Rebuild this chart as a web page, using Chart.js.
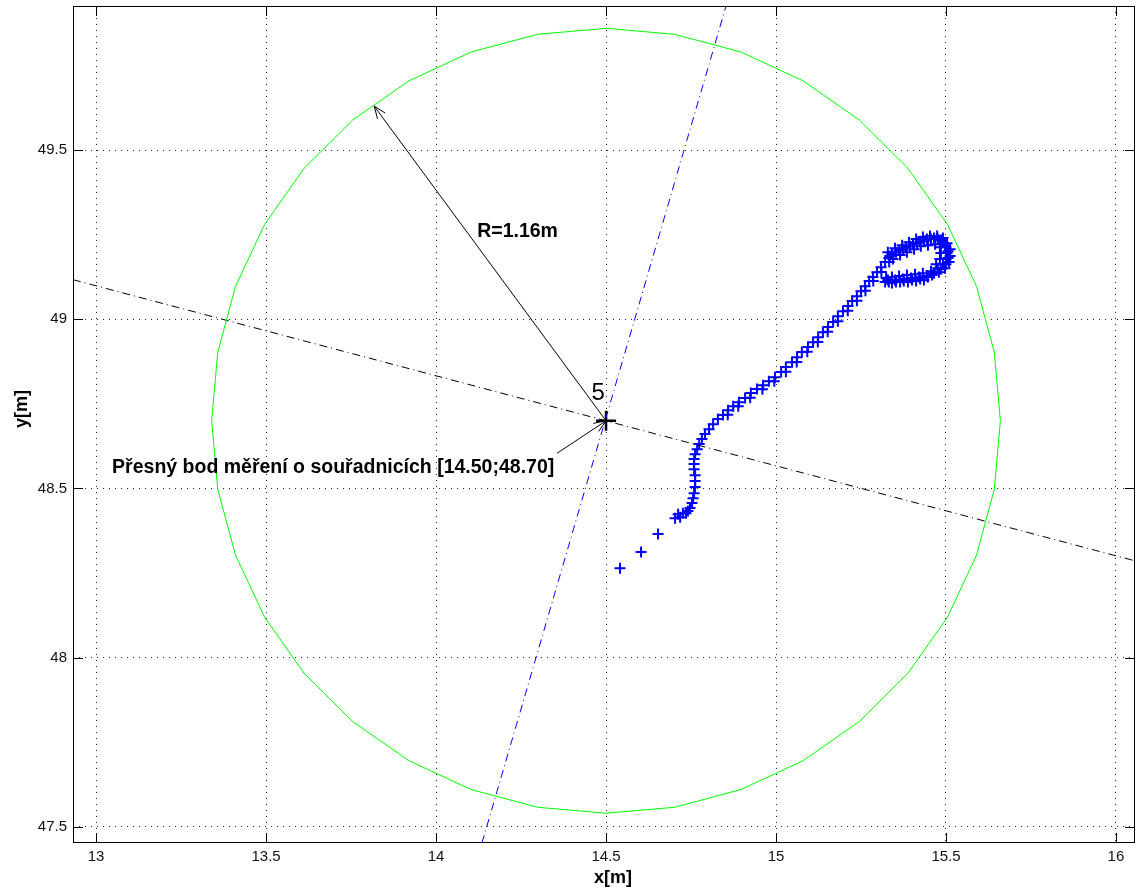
<!DOCTYPE html>
<html>
<head>
<meta charset="utf-8">
<script src="https://cdn.jsdelivr.net/npm/chart.js@4.4.1/dist/chart.umd.min.js"></script>
<style>
  html, body { margin: 0; padding: 0; background: #fff; }
  #wrap { width: 1136px; height: 890px; }
</style>
</head>
<body>
<div id="wrap"><canvas id="chart" width="1136" height="890"></canvas></div>
<script>
// axis ranges
const xRange = [12.932, 16.056];
const yRange = [47.452, 49.926];
const tickStep = 0.5;

// measuring point and tolerance circle
const centerPoint = [14.5, 48.7];
const radius = 1.16;
const circleSteps = 36;

// dash-dot reference lines (end points on the axes box)
const blackLineX = [12.932, 16.056];
const blackLineY = [49.117, 48.286];
const blueLineX = [14.135, 14.853];
const blueLineY = [47.452, 49.926];

// measured positions (+ markers)
const trackX = [
  14.541, 14.603, 14.653,
  14.703, 14.712, 14.718, 14.726, 14.735, 14.741, 14.747, 14.753, 14.756, 14.759,
  14.762, 14.762, 14.762, 14.759, 14.759, 14.759, 14.762, 14.768, 14.774, 14.782,
  14.791, 14.803, 14.815, 14.829, 14.844, 14.859, 14.874, 14.891, 14.909, 14.926,
  14.944, 14.962, 14.979, 14.997, 15.015, 15.029, 15.047, 15.062, 15.076, 15.094,
  15.109, 15.124, 15.138, 15.153, 15.168, 15.182, 15.197, 15.212, 15.224, 15.238,
  15.250, 15.262, 15.274, 15.285, 15.297, 15.309, 15.321, 15.332,
  14.858, 14.889, 14.924, 14.960, 14.995, 15.029, 15.061, 15.092, 15.123, 15.152,
  15.182, 15.211, 15.238, 15.263, 15.286, 15.310, 15.333,
  15.335, 15.353, 15.374, 15.394, 15.415, 15.435, 15.456, 15.476, 15.491, 15.500,
  15.503, 15.500, 15.491, 15.476, 15.456, 15.432, 15.409, 15.385, 15.362, 15.341, 15.324,
  15.344, 15.365, 15.385, 15.406, 15.426, 15.447, 15.468, 15.482, 15.485, 15.482,
  15.471, 15.447, 15.424, 15.400, 15.376, 15.353, 15.332,
  15.329, 15.350, 15.371, 15.391, 15.412, 15.432, 15.453, 15.474, 15.491, 15.503,
  15.512, 15.512, 15.509, 15.497, 15.479, 15.459, 15.435, 15.412, 15.388, 15.365,
  15.341, 15.321,
  15.341, 15.362, 15.382, 15.403, 15.424, 15.444, 15.465, 15.485, 15.497, 15.506,
  15.506, 15.500, 15.485, 15.465, 15.444, 15.421, 15.397, 15.374, 15.350, 15.329
];
const trackY = [
  48.264, 48.312, 48.365,
  48.412, 48.424, 48.415, 48.427, 48.427, 48.433, 48.442, 48.457, 48.471, 48.486,
  48.504, 48.522, 48.539, 48.557, 48.572, 48.587, 48.601, 48.616, 48.631, 48.646,
  48.661, 48.675, 48.690, 48.705, 48.717, 48.731, 48.743, 48.755, 48.767, 48.782,
  48.794, 48.805, 48.817, 48.829, 48.844, 48.859, 48.873, 48.888, 48.903, 48.918,
  48.932, 48.947, 48.962, 48.977, 48.992, 49.009, 49.024, 49.039, 49.054, 49.068,
  49.083, 49.098, 49.113, 49.125, 49.139, 49.154, 49.169, 49.181,
  48.718, 48.743, 48.768, 48.793, 48.817, 48.845, 48.874, 48.904, 48.933, 48.963,
  48.994, 49.025, 49.055, 49.084, 49.113, 49.140, 49.169,
  49.187, 49.198, 49.207, 49.216, 49.225, 49.231, 49.237, 49.237, 49.228, 49.213,
  49.196, 49.178, 49.163, 49.151, 49.142, 49.136, 49.133, 49.131, 49.128, 49.125, 49.122,
  49.178, 49.190, 49.198, 49.207, 49.216, 49.219, 49.222, 49.213, 49.196, 49.178,
  49.163, 49.125, 49.119, 49.116, 49.113, 49.110, 49.110,
  49.198, 49.210, 49.219, 49.228, 49.237, 49.243, 49.246, 49.246, 49.240, 49.225,
  49.207, 49.187, 49.169, 49.151, 49.139, 49.131, 49.116, 49.113, 49.110, 49.110,
  49.107, 49.110,
  49.193, 49.204, 49.213, 49.222, 49.231, 49.237, 49.240, 49.234, 49.219, 49.201,
  49.181, 49.163, 49.148, 49.136, 49.128, 49.125, 49.122, 49.119, 49.116, 49.116
];

// annotations
const radiusArrowEnd = [13.818, 49.630];
const noteArrowStart = [14.356, 48.604];
const radiusLabel = "R=1.16m";
const radiusLabelPos = [14.121, 49.258];
const noteLabel = "Přesný bod měření o souřadnicích [14.50;48.70]";
const noteLabelPos = [13.047, 48.563];
const pointLabel = "5";
const pointLabelPos = [14.457, 48.781];

const circlePts = [];
for (let i = 0; i <= circleSteps; i++) {
  const a = (i / circleSteps) * 2 * Math.PI;
  circlePts.push({ x: centerPoint[0] + radius * Math.cos(a), y: centerPoint[1] + radius * Math.sin(a) });
}

const toPts = (xs, ys) => xs.map((x, i) => ({ x: x, y: ys[i] }));

const FONT = "'Liberation Sans', Arial, sans-serif";
const tickFmt = v => String(+Number(v).toFixed(1));

function arrowHead(ctx, x1, y1, x2, y2) {
  const ang = Math.atan2(y2 - y1, x2 - x1);
  const len = 13, spread = 0.38;
  ctx.beginPath();
  ctx.moveTo(x2 - len * Math.cos(ang - spread), y2 - len * Math.sin(ang - spread));
  ctx.lineTo(x2, y2);
  ctx.lineTo(x2 - len * Math.cos(ang + spread), y2 - len * Math.sin(ang + spread));
  ctx.stroke();
}

const overlay = {
  id: "overlay",
  afterDatasetsDraw(chart) {
    const ctx = chart.ctx;
    const xs = chart.scales.x, ys = chart.scales.y;
    const px = v => xs.getPixelForValue(v), py = v => ys.getPixelForValue(v);
    const cx = px(centerPoint[0]), cy = py(centerPoint[1]);

    ctx.save();
    ctx.strokeStyle = "#000";
    ctx.lineWidth = 1;

    // radius arrow
    const rx = px(radiusArrowEnd[0]), ry = py(radiusArrowEnd[1]);
    ctx.beginPath(); ctx.moveTo(cx, cy); ctx.lineTo(rx, ry); ctx.stroke();
    arrowHead(ctx, cx, cy, rx, ry);

    // note arrow
    const nx = px(noteArrowStart[0]), ny = py(noteArrowStart[1]);
    ctx.beginPath(); ctx.moveTo(nx, ny); ctx.lineTo(cx, cy); ctx.stroke();
    arrowHead(ctx, nx, ny, cx, cy);

    // texts
    ctx.fillStyle = "#000";
    ctx.textBaseline = "middle";
    ctx.textAlign = "left";
    ctx.font = "bold 19.5px " + FONT;
    ctx.fillText(radiusLabel, px(radiusLabelPos[0]), py(radiusLabelPos[1]));
    ctx.fillText(noteLabel, px(noteLabelPos[0]), py(noteLabelPos[1]));
    ctx.font = "24px " + FONT;
    ctx.fillText(pointLabel, px(pointLabelPos[0]), py(pointLabelPos[1]));
    ctx.restore();
  },
  afterDraw(chart) {
    const ctx = chart.ctx;
    const a = chart.chartArea;
    const xs = chart.scales.x, ys = chart.scales.y;
    ctx.save();
    ctx.strokeStyle = "#000";
    ctx.lineWidth = 1;
    ctx.strokeRect(a.left + 0.5, a.top + 0.5, a.right - a.left - 1, a.bottom - a.top - 1);
    const tl = 10;
    ctx.beginPath();
    xs.ticks.forEach(t => {
      const x = Math.round(xs.getPixelForValue(t.value)) + 0.5;
      ctx.moveTo(x, a.bottom); ctx.lineTo(x, a.bottom - tl);
      ctx.moveTo(x, a.top); ctx.lineTo(x, a.top + tl);
    });
    ys.ticks.forEach(t => {
      const y = Math.round(ys.getPixelForValue(t.value)) + 0.5;
      ctx.moveTo(a.left, y); ctx.lineTo(a.left + tl, y);
      ctx.moveTo(a.right, y); ctx.lineTo(a.right - tl, y);
    });
    ctx.stroke();

    // tick labels
    ctx.fillStyle = "#111";
    ctx.font = "15px " + FONT;
    ctx.textBaseline = "middle";
    ctx.textAlign = "center";
    xs.ticks.forEach(t => ctx.fillText(tickFmt(t.value), xs.getPixelForValue(t.value), a.bottom + 14));
    ctx.textAlign = "right";
    ys.ticks.forEach(t => ctx.fillText(tickFmt(t.value), a.left - 6, ys.getPixelForValue(t.value)));

    // axis titles
    ctx.fillStyle = "#000";
    ctx.font = "bold 18px " + FONT;
    ctx.textAlign = "center";
    ctx.fillText("x[m]", 613, 878);
    ctx.translate(22, 409);
    ctx.rotate(-Math.PI / 2);
    ctx.fillText("y[m]", 0, 0);
    ctx.restore();
  }
};

new Chart(document.getElementById("chart"), {
  type: "scatter",
  data: {
    datasets: [
      {
        type: "line",
        data: circlePts,
        borderColor: "#00ff00",
        borderWidth: 1,
        pointRadius: 0,
        fill: false,
        tension: 0
      },
      {
        type: "line",
        data: toPts(blackLineX, blackLineY),
        borderColor: "#000",
        borderWidth: 1,
        borderDash: [8, 4, 1, 4],
        pointRadius: 0,
        fill: false
      },
      {
        type: "line",
        data: toPts(blueLineX, blueLineY),
        borderColor: "#0000ff",
        borderWidth: 1,
        borderDash: [8, 4, 1, 4],
        pointRadius: 0,
        fill: false
      },
      {
        data: toPts(trackX, trackY),
        pointStyle: "cross",
        pointRadius: 5.5,
        borderColor: "#0000ff",
        borderWidth: 2,
        showLine: false
      },
      {
        data: [{ x: centerPoint[0], y: centerPoint[1] }],
        pointStyle: "cross",
        pointRadius: 10,
        borderColor: "#000",
        borderWidth: 2.5
      }
    ]
  },
  options: {
    responsive: false,
    animation: false,
    layout: { autoPadding: false, padding: { top: 6, right: 1, left: 0, bottom: 0 } },
    plugins: { legend: { display: false }, tooltip: { enabled: false } },
    scales: {
      x: {
        type: "linear",
        min: xRange[0],
        max: xRange[1],
        afterFit: s => { s.height = 47; },
        ticks: { stepSize: tickStep, includeBounds: false, display: false },
        grid: { color: "#222", lineWidth: 1, drawTicks: false },
        border: { display: false, dash: [1, 5] }
      },
      y: {
        type: "linear",
        min: yRange[0],
        max: yRange[1],
        afterFit: s => { s.width = 73; },
        ticks: { stepSize: tickStep, includeBounds: false, display: false },
        grid: { color: "#222", lineWidth: 1, drawTicks: false },
        border: { display: false, dash: [1, 5] }
      }
    }
  },
  plugins: [overlay]
});
</script>
</body>
</html>
